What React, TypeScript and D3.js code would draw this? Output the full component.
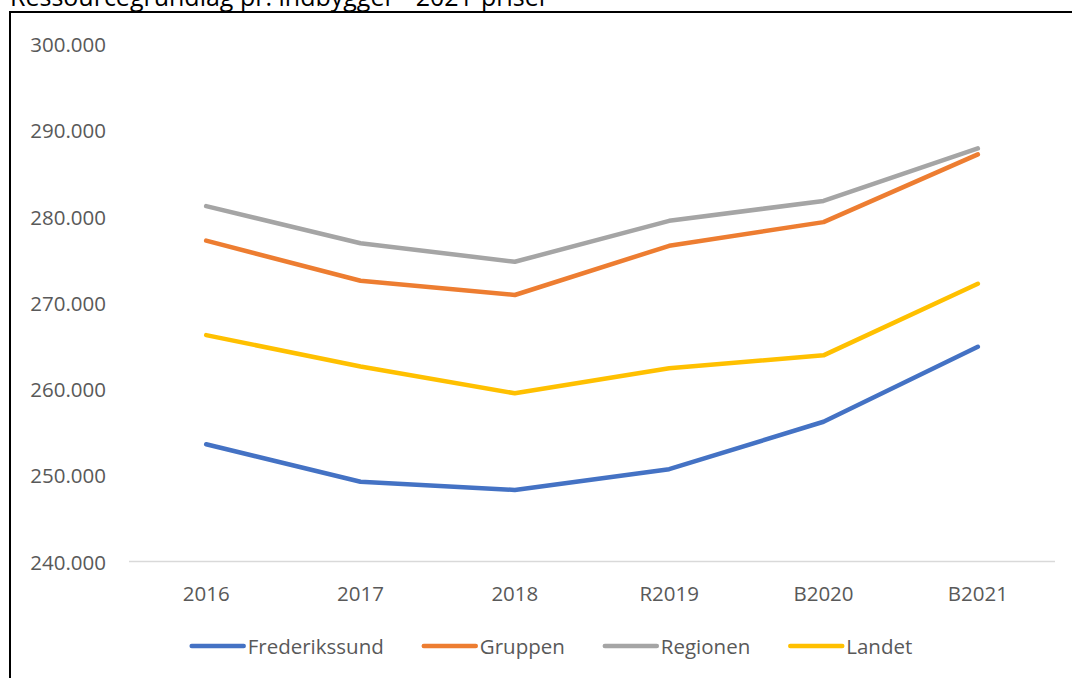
import { useEffect, useRef } from 'react';
import * as d3 from 'd3';

const TITLE = 'Ressourcegrundlag pr. indbygger - 2021-priser';
const CATEGORIES = ['2016', '2017', '2018', 'R2019', 'B2020', 'B2021'];
const SERIES_NAMES = ['Frederikssund', 'Gruppen', 'Regionen', 'Landet'];
const FREDERIKSSUND = [253600, 249250, 248300, 250700, 256200, 264900];
const GRUPPEN = [277200, 272550, 270900, 276600, 279350, 287200];
const REGIONEN = [281200, 276900, 274750, 279500, 281800, 287900];
const LANDET = [266250, 262600, 259500, 262400, 263900, 272200];
const Y_TICKS = [240000, 250000, 260000, 270000, 280000, 290000, 300000];
const COLORS = ['#4472C4', '#ED7D31', '#A5A5A5', '#FFC000'];

const W = 1072;
const H = 678;
const FONT = '"Open Sans", sans-serif';
const LABEL_SIZE = '20.5px';

export default function App() {
  const svgRef = useRef<SVGSVGElement>(null);

  useEffect(() => {
    if (!svgRef.current) return;
    const svg = d3.select(svgRef.current);
    svg.selectAll('*').remove();

    const series = [FREDERIKSSUND, GRUPPEN, REGIONEN, LANDET].map((values, i) => ({
      name: SERIES_NAMES[i],
      color: COLORS[i],
      values,
    }));

    const x = d3.scaleBand<string>().domain(CATEGORIES).range([129, 1055]);
    const y = d3.scaleLinear().domain([240000, 300000]).range([561.5, 44]);
    // dansk tusindtalsseparator
    const fmt = (v: number) => d3.format(',')(v).replace(/,/g, '.');

    // titel, skåret af i toppen som i originalen
    svg.append('text')
      .attr('x', 10)
      .attr('y', 6)
      .style('font-family', FONT)
      .style('font-size', '25px')
      .attr('fill', '#000')
      .text(TITLE);

    // ramme (kun venstre og top synlige)
    svg.append('rect')
      .attr('x', 10)
      .attr('y', 12)
      .attr('width', W + 20)
      .attr('height', H + 20)
      .attr('fill', 'none')
      .attr('stroke', '#000')
      .attr('stroke-width', 2);

    // y-akse etiketter
    svg.append('g')
      .selectAll('text')
      .data(Y_TICKS)
      .join('text')
      .attr('x', 106)
      .attr('y', (d) => y(d))
      .attr('text-anchor', 'end')
      .attr('dominant-baseline', 'central')
      .attr('fill', '#595959')
      .style('font-family', FONT)
      .style('font-size', LABEL_SIZE)
      .text((d) => fmt(d));

    // bundlinje
    svg.append('line')
      .attr('x1', x.range()[0])
      .attr('x2', x.range()[1])
      .attr('y1', y(240000))
      .attr('y2', y(240000))
      .attr('stroke', '#D9D9D9')
      .attr('stroke-width', 1.5);

    // x-akse etiketter
    svg.append('g')
      .selectAll('text')
      .data(CATEGORIES)
      .join('text')
      .attr('x', (d) => (x(d) ?? 0) + x.bandwidth() / 2)
      .attr('y', 593)
      .attr('text-anchor', 'middle')
      .attr('dominant-baseline', 'central')
      .attr('fill', '#595959')
      .style('font-family', FONT)
      .style('font-size', LABEL_SIZE)
      .text((d) => d);

    const line = d3
      .line<number>()
      .x((_, i) => (x(CATEGORIES[i]) ?? 0) + x.bandwidth() / 2)
      .y((d) => y(d));

    svg.append('g')
      .selectAll('path')
      .data(series)
      .join('path')
      .attr('d', (d) => line(d.values))
      .attr('fill', 'none')
      .attr('stroke', (d) => d.color)
      .attr('stroke-width', 4.5)
      .attr('stroke-linecap', 'round')
      .attr('stroke-linejoin', 'round');

    // legende
    const legend = svg.append('g');
    const swatch = 54;
    const gap = 4;
    const spacing = 38;
    const items = series.map((s) => {
      const g = legend.append('g');
      g.append('line')
        .attr('x1', 2)
        .attr('x2', swatch)
        .attr('y1', 0)
        .attr('y2', 0)
        .attr('stroke', s.color)
        .attr('stroke-width', 4.5)
        .attr('stroke-linecap', 'round');
      const t = g.append('text')
        .attr('x', swatch + gap)
        .attr('y', 0)
        .attr('dominant-baseline', 'central')
        .attr('fill', '#595959')
        .style('font-family', FONT)
        .style('font-size', LABEL_SIZE)
        .text(s.name);
      const w = swatch + gap + (t.node() as SVGTextElement).getComputedTextLength();
      return { g, w };
    });
    const total = d3.sum(items, (d) => d.w) + spacing * (items.length - 1);
    let cx = 551 - total / 2;
    items.forEach((it) => {
      it.g.attr('transform', `translate(${cx},646)`);
      cx += it.w + spacing;
    });
  }, []);

  return (
    <svg
      ref={svgRef}
      width={W}
      height={H}
      style={{ position: 'fixed', left: 0, top: 0, background: '#fff' }}
    />
  );
}
